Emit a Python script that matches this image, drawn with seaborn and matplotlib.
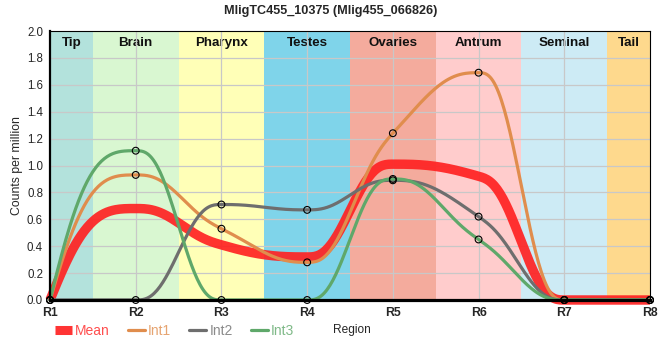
import numpy as np
import pandas as pd
import matplotlib
matplotlib.use("Agg")
import matplotlib.pyplot as plt
import seaborn as sns
from matplotlib.lines import Line2D

# ---- data ----
regions = ["R1", "R2", "R3", "R4", "R5", "R6", "R7", "R8"]
mean_vals = [0.0, 0.68, 0.41, 0.32, 1.01, 0.92, 0.0, 0.0]
int1_vals = [0.0, 0.93, 0.53, 0.28, 1.24, 1.69, 0.0, 0.0]
int2_vals = [0.0, 0.0, 0.71, 0.67, 0.89, 0.62, 0.0, 0.0]
int3_vals = [0.0, 1.11, 0.0, 0.0, 0.90, 0.45, 0.0, 0.0]
band_names = ["Tip", "Brain", "Pharynx", "Testes", "Ovaries", "Antrum", "Seminal", "Tail"]
band_colors = ["#b3e2dc", "#d9f7d1", "#ffffb7", "#7fd4ea", "#f4ab9d", "#ffcccc", "#cdebf5", "#fed98d"]
series_names = ["Int1", "Int2", "Int3"]
series_colors = {"Mean": "#ff2222", "Int1": "#e08d4d", "Int2": "#6e6e6e", "Int3": "#5fa86a"}
title = "MligTC455_10375 (Mlig455_066826)"


def smooth(y, n=60):
    """Monotone slopes + quintic Hermite segments (drawing only)."""
    y = np.asarray(y, float)
    x = np.arange(len(y), dtype=float)
    s = np.diff(y)
    m = np.zeros(len(y))
    for i in range(1, len(y) - 1):
        if s[i - 1] * s[i] > 0:
            p = (s[i - 1] + s[i]) / 2
            m[i] = np.sign(p) * min(abs(s[i - 1]), abs(s[i]), 0.5 * abs(p)) * 2
    m[0] = 2.3 * s[0] - 0.5 * m[1]
    m[-1] = 2.3 * s[-1] - 0.5 * m[-2]
    xs, ys = [], []
    for i in range(len(y) - 1):
        t = np.linspace(0, 1, n, endpoint=(i == len(y) - 2))
        h0 = 1 - 10 * t**3 + 15 * t**4 - 6 * t**5
        h1 = t - 6 * t**3 + 8 * t**4 - 3 * t**5
        h4 = 10 * t**3 - 15 * t**4 + 6 * t**5
        h3 = -4 * t**3 + 7 * t**4 - 3 * t**5
        ys.append(h0 * y[i] + h1 * m[i] + h4 * y[i + 1] + h3 * m[i + 1])
        xs.append(x[i] + t)
    return np.concatenate(xs), np.concatenate(ys)


sns.set_theme(style="white")
plt.rcParams["font.family"] = ["Liberation Sans", "DejaVu Sans"]

fig = plt.figure(figsize=(6.6, 3.6), dpi=100)
ax = fig.add_axes([50 / 660, 1 - 300 / 360, 600 / 660, 269 / 360])

# background bands
for i, (nm, c) in enumerate(zip(band_names, band_colors)):
    lo = max(i - 0.5, 0)
    hi = min(i + 0.5, len(regions) - 1)
    ax.axvspan(lo, hi, color=c, lw=0, zorder=0)
    ax.text((lo + hi) / 2, 1.955, nm, ha="center", va="top", fontsize=9.6,
            fontweight="bold", color="#111111", zorder=1)

for yv in np.arange(0.2, 2.0, 0.2):
    ax.axhline(yv, color="#c8c8c8", lw=0.9, zorder=1)
for xv in range(1, len(regions) - 1):
    ax.axvline(xv, color="#c8c8c8", lw=0.9, zorder=1)

rows = []
for nm, vals in [("Mean", mean_vals), ("Int1", int1_vals), ("Int2", int2_vals), ("Int3", int3_vals)]:
    xs, ys = smooth(vals)
    for a, b in zip(xs, ys):
        rows.append((nm, a, b))
dense = pd.DataFrame(rows, columns=["series", "x", "y"])

sns.lineplot(data=dense[dense.series == "Mean"], x="x", y="y", color=series_colors["Mean"],
             lw=6.8, alpha=0.92, sort=False, ax=ax, legend=False, zorder=3,
             solid_capstyle="butt")
for nm in series_names:
    sns.lineplot(data=dense[dense.series == nm], x="x", y="y", color=series_colors[nm],
                 lw=2.3, sort=False, ax=ax, legend=False, zorder=4)

pts = pd.DataFrame({
    "x": np.tile(np.arange(len(regions)), 3),
    "y": int1_vals + int2_vals + int3_vals,
})
sns.scatterplot(data=pts, x="x", y="y", s=24, facecolor="none", edgecolor="black",
                linewidth=0.8, ax=ax, zorder=6, clip_on=False)

for ln in ax.lines:
    ln.set_clip_on(False)

ax.set_xlim(0, len(regions) - 1)
ax.set_ylim(0, 2.0)
ax.set_xticks(range(len(regions)))
ax.set_xticklabels(regions, fontsize=8.8, fontweight="bold")
ax.set_yticks(np.arange(0, 2.01, 0.2))
ax.set_yticklabels([f"{v:.1f}" for v in np.arange(0, 2.01, 0.2)], fontsize=8.3)
ax.tick_params(axis="y", length=3, width=0.8, color="black", pad=2)
ax.tick_params(axis="x", length=0, pad=5)
ax.set_ylabel("Counts per million", fontsize=8.8, labelpad=3)
ax.set_xlabel("Region", fontsize=8.6)
ax.xaxis.set_label_coords(0.503, -0.09)
ax.set_title(title, fontsize=9.1, fontweight="bold", pad=12, x=0.467)

for side, w in [("left", 1.6), ("bottom", 2.3), ("top", 0.8), ("right", 0.8)]:
    ax.spines[side].set_visible(True)
    ax.spines[side].set_color("black")
    ax.spines[side].set_linewidth(w)
    ax.spines[side].set_zorder(5)

handles = [Line2D([], [], color=series_colors["Mean"], lw=6.5, alpha=0.92, solid_capstyle="butt")]
handles += [Line2D([], [], color=series_colors[n], lw=2.3) for n in series_names]
labels = ["Mean"] + series_names
leg = fig.legend(handles, labels, loc="center left", bbox_to_anchor=(55 / 660, 1 - 331 / 360),
                 ncol=4, frameon=False, fontsize=10, handlelength=1.2, handletextpad=0.25,
                 columnspacing=1.3, borderaxespad=0, borderpad=0)
for txt, nm in zip(leg.get_texts(), labels):
    txt.set_color(series_colors[nm])
    txt.set_alpha(0.8)

fig.savefig("out.png", dpi=100)
